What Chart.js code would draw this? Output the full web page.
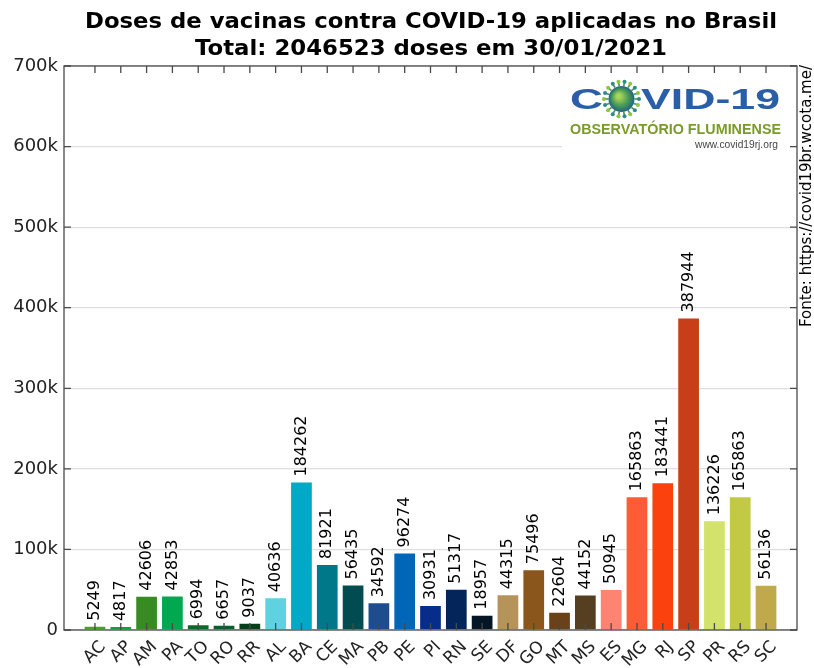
<!DOCTYPE html>
<html>
<head>
<meta charset="utf-8">
<title>Doses de vacinas contra COVID-19 aplicadas no Brasil</title>
<script src="https://cdn.jsdelivr.net/npm/chart.js@4.4.1/dist/chart.umd.min.js"></script>
<style>
  html, body { margin: 0; padding: 0; background: #fff; }
  #wrap { width: 814px; height: 668px; }
</style>
</head>
<body>
<div id="wrap"><canvas id="chart" width="814" height="668"></canvas></div>
<script>
/* ── Data ─────────────────────────────────────────────── */
var states = ['AC', 'AP', 'AM', 'PA', 'TO', 'RO', 'RR', 'AL', 'BA', 'CE', 'MA', 'PB', 'PE', 'PI',
              'RN', 'SE', 'DF', 'GO', 'MT', 'MS', 'ES', 'MG', 'RJ', 'SP', 'PR', 'RS', 'SC'];
var doses  = [5249, 4817, 42606, 42853, 6994, 6657, 9037, 40636, 184262, 81921, 56435, 34592, 96274, 30931,
              51317, 18957, 44315, 75496, 22604, 44152, 50945, 165863, 183441, 387944, 136226, 165863, 56136];
var yTicks = [0, 100000, 200000, 300000, 400000, 500000, 600000, 700000];
var titleLines = ['Doses de vacinas contra COVID-19 aplicadas no Brasil',
                  'Total: 2046523 doses em 30/01/2021'];
var sourceText = 'Fonte: https://covid19br.wcota.me/';

var barColors = ['#43a81c', '#12a23a', '#378b22', '#00a84f', '#0b6a27', '#0a5f2d', '#053f19',
                 '#5fd2e0', '#00a9c5', '#00788a', '#004c51', '#1d4d8e', '#0066b9', '#072d8b',
                 '#03255a', '#041526', '#b69358', '#8a561c', '#6a4219', '#553f20',
                 '#fe8371', '#fe5b37', '#fb410d', '#c83e19', '#d3e26a', '#c2c944', '#bfa94b'];

var FONT = '"DejaVu Sans", sans-serif';

/* ── Plugins ──────────────────────────────────────────── */
var valueLabels = {
  id: 'valueLabels',
  afterDatasetsDraw: function (chart) {
    var ctx = chart.ctx;
    var meta = chart.getDatasetMeta(0);
    ctx.save();
    ctx.font = '16px ' + FONT;
    ctx.fillStyle = '#000';
    ctx.textAlign = 'left';
    ctx.textBaseline = 'middle';
    meta.data.forEach(function (bar, i) {
      ctx.save();
      ctx.translate(bar.x, bar.y - 5);
      ctx.rotate(-Math.PI / 2);
      ctx.fillText(String(doses[i]), 0, 0);
      ctx.restore();
    });
    ctx.restore();
  }
};

// draws text squeezed/stretched to a given width (used for title and logo)
function stretchText(ctx, text, x, y, width) {
  var w = ctx.measureText(text).width;
  ctx.save();
  ctx.translate(x, y);
  ctx.scale(width / w, 1);
  ctx.fillText(text, 0, 0);
  ctx.restore();
}

function drawLogo(ctx) {
  ctx.save();
  ctx.fillStyle = '#fff';
  ctx.fillRect(562, 75, 228, 81);

  ctx.fillStyle = '#2a5ea6';
  ctx.textAlign = 'left';
  ctx.textBaseline = 'alphabetic';
  ctx.font = 'bold 29px "Liberation Sans", sans-serif';
  stretchText(ctx, 'C', 570, 109, 33);
  stretchText(ctx, 'VID-19', 641, 109, 139);

  // virus in place of the "O"
  var cx = 621.5, cy = 99, r = 13;
  ctx.strokeStyle = '#4f8f5a';
  ctx.lineWidth = 1.6;
  for (var k = 0; k < 18; k++) {
    var a = k * Math.PI * 2 / 18;
    ctx.beginPath();
    ctx.moveTo(cx + Math.cos(a) * r, cy + Math.sin(a) * r);
    ctx.lineTo(cx + Math.cos(a) * (r + 4), cy + Math.sin(a) * (r + 4));
    ctx.stroke();
    ctx.fillStyle = k % 2 ? '#8cc63f' : '#2f8a8c';
    ctx.beginPath();
    ctx.arc(cx + Math.cos(a) * (r + 4.5), cy + Math.sin(a) * (r + 4.5), 2, 0, Math.PI * 2);
    ctx.fill();
  }
  var g = ctx.createRadialGradient(cx - 3, cy - 3, 2, cx, cy, r);
  g.addColorStop(0, '#a8d65a');
  g.addColorStop(0.55, '#4c9c54');
  g.addColorStop(1, '#1d6384');
  ctx.fillStyle = g;
  ctx.beginPath();
  ctx.arc(cx, cy, r, 0, Math.PI * 2);
  ctx.fill();

  ctx.fillStyle = '#7a9a2b';
  ctx.font = 'bold 14px "Liberation Sans", sans-serif';
  stretchText(ctx, 'OBSERVATÓRIO FLUMINENSE', 570, 134, 211);

  ctx.fillStyle = '#444';
  ctx.font = '10px "Liberation Sans", sans-serif';
  stretchText(ctx, 'www.covid19rj.org', 695, 148, 83);
  ctx.restore();
}

var decorations = {
  id: 'decorations',
  afterDraw: function (chart) {
    var ctx = chart.ctx;
    var a = chart.chartArea;
    var xs = chart.scales.x, ys = chart.scales.y;

    // title
    ctx.save();
    ctx.fillStyle = '#000';
    ctx.font = 'bold 21px ' + FONT;
    ctx.textAlign = 'left';
    ctx.textBaseline = 'middle';
    stretchText(ctx, titleLines[0], 85, 23, 692);
    stretchText(ctx, titleLines[1], 195, 50, 472);

    // source, vertical on the right
    ctx.font = '15px ' + FONT;
    ctx.textAlign = 'right';
    ctx.translate(807, 65);
    ctx.rotate(-Math.PI / 2);
    ctx.fillText(sourceText, 0, 0);
    ctx.restore();

    drawLogo(ctx);

    // frame + inward ticks
    ctx.save();
    ctx.strokeStyle = '#4a4a4a';
    ctx.lineWidth = 1.3;
    ctx.strokeRect(a.left, a.top, a.right - a.left, a.bottom - a.top);
    ctx.beginPath();
    states.forEach(function (s, i) {
      var x = xs.getPixelForValue(i);
      ctx.moveTo(x, a.bottom); ctx.lineTo(x, a.bottom - 7);
      ctx.moveTo(x, a.top);    ctx.lineTo(x, a.top + 7);
    });
    yTicks.forEach(function (v) {
      var y = ys.getPixelForValue(v);
      ctx.moveTo(a.left, y);  ctx.lineTo(a.left + 7, y);
      ctx.moveTo(a.right, y); ctx.lineTo(a.right - 7, y);
    });
    ctx.stroke();
    ctx.restore();
  }
};

/* ── Chart ────────────────────────────────────────────── */
new Chart(document.getElementById('chart'), {
  type: 'bar',
  data: {
    datasets: [{
      data: doses.map(function (v, i) { return { x: i, y: v }; }),
      backgroundColor: barColors,
      borderColor: 'rgba(255,255,255,0.45)',
      borderWidth: 1,
      barPercentage: 0.88,
      categoryPercentage: 1
    }]
  },
  options: {
    responsive: false,
    animation: false,
    devicePixelRatio: 1,
    layout: { padding: { top: 66, right: 17, left: 0, bottom: 0 } },
    plugins: { legend: { display: false }, tooltip: { enabled: false }, title: { display: false } },
    scales: {
      x: {
        type: 'linear',
        offset: false,
        min: -1.2,
        max: 27.2,
        afterBuildTicks: function (scale) {
          scale.ticks = states.map(function (s, i) { return { value: i }; });
        },
        afterFit: function (scale) { scale.height = 38; },
        grid: { display: false, drawTicks: false },
        border: { display: false },
        ticks: {
          autoSkip: false,
          minRotation: 45,
          maxRotation: 45,
          padding: 7,
          labelOffset: 8,
          color: '#222',
          font: { family: FONT, size: 17 },
          callback: function (v) { return states[v]; }
        }
      },
      y: {
        min: 0,
        max: 700000,
        afterBuildTicks: function (scale) {
          scale.ticks = yTicks.map(function (v) { return { value: v }; });
        },
        afterFit: function (scale) { scale.width = 64; },
        grid: { color: '#dedede', lineWidth: 1.2, drawTicks: false },
        border: { display: false },
        ticks: {
          padding: 6,
          color: '#222',
          font: { family: FONT, size: 18 },
          callback: function (v) { return v === 0 ? '0' : (v / 1000) + 'k'; }
        }
      }
    }
  },
  plugins: [valueLabels, decorations]
});
</script>
</body>
</html>
